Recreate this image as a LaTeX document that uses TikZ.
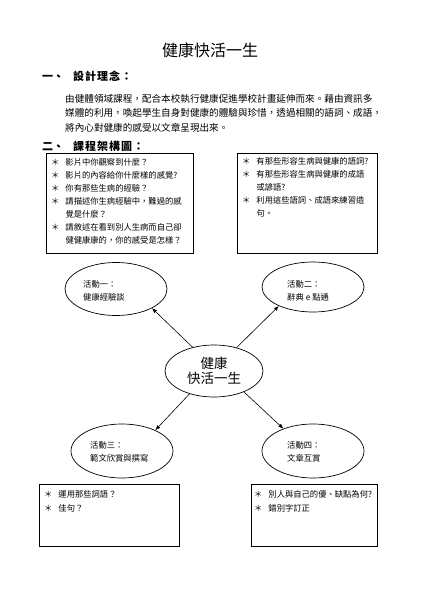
\documentclass[tikz,border=0pt]{standalone}
\usepackage{fontspec}
\setmainfont{Noto Sans CJK TC}
\usetikzlibrary{shapes.geometric,arrows.meta}
\begin{document}
\begin{tikzpicture}[x=1pt,y=-1pt,
  txt/.style={inner sep=0pt, anchor=north west, align=left},
  head/.style={inner sep=0pt, anchor=west, font=\fontsize{11}{11}\selectfont\bfseries},
  frame/.style={draw, line width=0.8pt},
  bubble/.style={draw, ellipse, line width=0.7pt, inner sep=0pt, minimum width=102pt, minimum height=53pt},
  link/.style={-{Latex[length=5pt,width=4pt]}, line width=0.6pt},
  fs/.style={font=\fontsize{8.3}{13}\selectfont},
  fsb/.style={font=\fontsize{8.3}{14}\selectfont}
]
\useasboundingbox (0,0) rectangle (420,593);
% title and headings
\node[inner sep=0pt, font=\fontsize{16}{16}\selectfont] (title) at (210,50) {健康快活一生};
\node[head] (h1) at (42,76) {一、\hspace{9pt}設\hspace{1pt}計\hspace{1pt}理\hspace{1pt}念\hspace{1pt}：};
\node[txt, font=\fontsize{9.6}{14.5}\selectfont] (para) at (65,93.8)
  {由健體領域課程，配合本校執行健康促進學校計畫延伸而來。藉由資訊多\\
   媒體的利用，喚起學生自身對健康的體驗與珍惜，透過相關的語詞、成語，\\
   將內心對健康的感受以文章呈現出來。};
\node[head] (h2) at (42,146) {二、\hspace{9pt}課\hspace{1pt}程\hspace{1pt}架\hspace{1pt}構\hspace{1pt}圖\hspace{1pt}：};
% top boxes
\draw[frame] (46,153) rectangle (193,253);
\node[txt, fs] (q1) at (51,158.4)
  {\makebox[14.3pt][l]{＊}影片中你觀察到什麼？\\
   \makebox[14.3pt][l]{＊}影片的內容給你什麼樣的感覺?\\
   \makebox[14.3pt][l]{＊}你有那些生病的經驗？\\
   \makebox[14.3pt][l]{＊}請描述你生病經驗中，難過的感\\
   \hspace*{14.3pt}覺是什麼？\\
   \makebox[14.3pt][l]{＊}請敘述在看到別人生病而自己卻\\
   \hspace*{14.3pt}健健康康的，你的感受是怎樣？};
\draw[frame] (237,153) rectangle (377,253);
\node[txt, fs] (q2) at (242,157.4)
  {\makebox[14.3pt][l]{＊}有那些形容生病與健康的語詞?\\
   \makebox[14.3pt][l]{＊}有那些形容生病與健康的成語\\
   \hspace*{14.3pt}或諺語?\\
   \makebox[14.3pt][l]{＊}利用這些語詞、成語來練習造\\
   \hspace*{14.3pt}句。};
% ellipses
\node[bubble] (e1) at (116,289) {};
\node[txt, fs] (t1) at (83,280.4) {活動一：\\健康經驗談};
\node[bubble, minimum height=50pt] (e2) at (313,287) {};
\node[txt, fs] (t2) at (287,280.4) {活動二：\\辭典\hspace{2pt}e\hspace{2pt}點通};
\node[bubble, minimum width=98pt, minimum height=52pt, align=center,
      font=\fontsize{13.5}{15}\selectfont] (c) at (214,371) {健康\\快活一生};
\node[bubble, minimum height=54pt] (e3) at (122,451) {};
\node[txt, fs] (t3) at (90,441.4) {活動三：\\範文欣賞與撰寫};
\node[bubble, minimum height=54pt] (e4) at (313,451) {};
\node[txt, fs] (t4) at (287,441.4) {活動四：\\文章互賞};
% arrows
\draw[link] (c.132) -- (e1.-28);
\draw[link] (c.46) -- (e2.-151);
\draw[link] (c.-137) -- (e3.32);
\draw[link] (c.-35) -- (e4.143);
% bottom boxes
\draw[frame] (39,484) rectangle (179,546);
\node[txt, fsb] (q3) at (44,490.4)
  {\makebox[14.3pt][l]{＊}運用那些詞語？\\
   \makebox[14.3pt][l]{＊}佳句？};
\draw[frame] (251,484) rectangle (377,546);
\node[txt, fsb] (q4) at (254,490.4)
  {\makebox[14.3pt][l]{＊}別人與自己的優、缺點為何?\\
   \makebox[14.3pt][l]{＊}錯別字訂正};
\end{tikzpicture}
\end{document}
